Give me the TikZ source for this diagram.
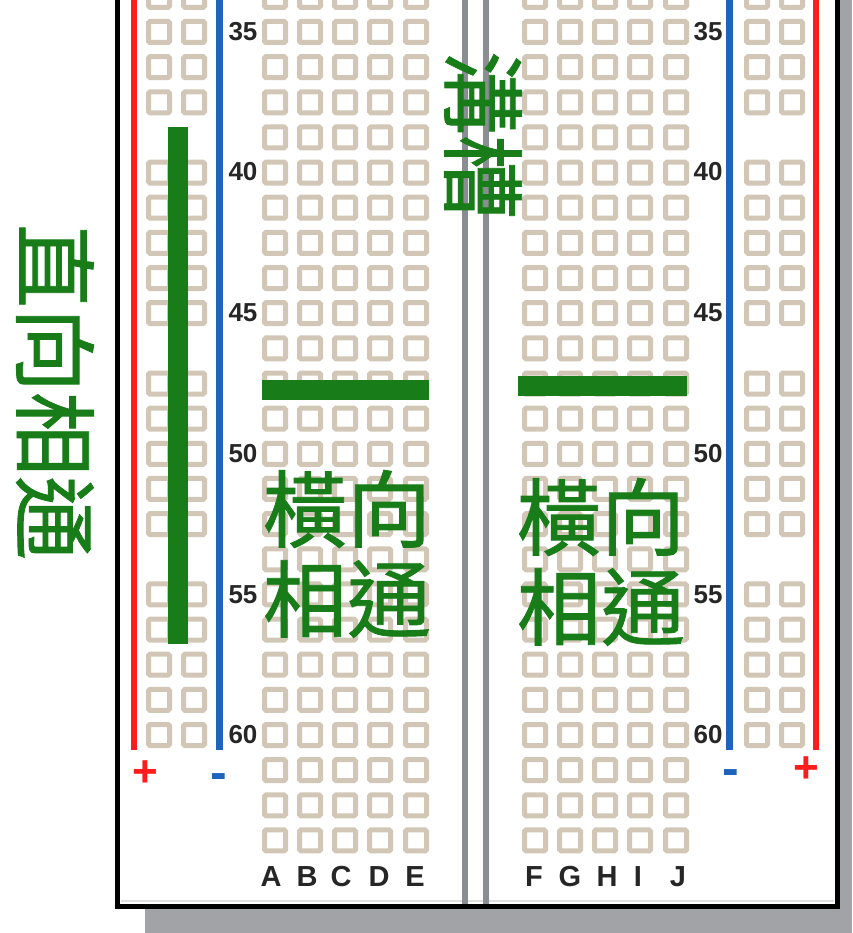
\documentclass[tikz,border=0pt]{standalone}
\usepackage{xcolor}
\usepackage{fontspec}
\setmainfont{Liberation Sans}
\newfontfamily\cjkfont[FakeBold=1]{Noto Sans CJK TC}
\usepackage{tikz}
\usetikzlibrary{calc}
\definecolor{holetan}{HTML}{D2C7B6}
\definecolor{railred}{HTML}{FF1C1C}
\definecolor{railblue}{HTML}{1F64BC}
\definecolor{bargreen}{HTML}{187D18}
\definecolor{shadowgray}{HTML}{A2A3A7}
\definecolor{slotgray}{HTML}{8A8E93}
\tikzset{
  hole/.style={draw=holetan, line width=5pt, rounded corners=1.5pt},
  rownum/.style={text=black!85, inner sep=0pt, font=\bfseries\fontsize{26}{26}\selectfont},
  collabel/.style={text=black!85, inner sep=0pt, font=\bfseries\fontsize{29}{29}\selectfont},
  cjklabel/.style={text=bargreen, inner sep=0pt, font=\cjkfont\fontsize{84}{84}\selectfont},
  plussign/.style={text=railred, inner sep=0pt, font=\bfseries\fontsize{44}{44}\selectfont},
  minussign/.style={text=railblue, inner sep=0pt, font=\bfseries\fontsize{50}{50}\selectfont}
}
\begin{document}
\begin{tikzpicture}[x=1pt, y=-1pt]
\useasboundingbox (0, 0) rectangle (852, 933);
\clip (0, 0) rectangle (852, 933);
% shadow and board
\fill [shadowgray] (145, 905) rectangle (852, 933);
\fill [shadowgray] (838, 0) rectangle (852, 933);
\fill [white] (117, -5) rectangle (838, 906);
\draw [black!12, line width=1.5pt] (121, 901) -- (834, 901);
\draw [slotgray, line width=6.5pt] (465, -5) -- (465, 904);
\draw [slotgray, line width=6.5pt] (486, -5) -- (486, 904);
\draw [black, line width=5pt] (117.5, -5) -- (117.5, 906) -- (837.5, 906) -- (837.5, -5);
% holes in the two terminal strips
\foreach \k in {-1,...,23} {
  \foreach \cx in {275,310,345,380,416,535,570,605,640,676} {
    \draw [hole] ({\cx-10.5}, {32+35.15*\k-10.5}) rectangle ({\cx+10.5}, {32+35.15*\k+10.5});
  }
}
% holes in the power rails, every sixth row is left out
\foreach \k in {-1,0,1,2,4,5,6,7,8,10,11,12,13,14,16,17,18,19,20} {
  \foreach \cx in {159,194,757,792} {
    \draw [hole] ({\cx-10.5}, {32+35.15*\k-10.5}) rectangle ({\cx+10.5}, {32+35.15*\k+10.5});
  }
}
% rails
\draw [railred, line width=6pt] (133.5, -5) -- (133.5, 750);
\draw [railblue, line width=7pt] (219, -5) -- (219, 750);
\draw [railblue, line width=7pt] (729, -5) -- (729, 750);
\draw [railred, line width=6pt] (815.5, -5) -- (815.5, 750);
\node [plussign] (plusL) at (145, 774) {+};
\node [minussign] (minusL) at (219, 782) {-};
\node [minussign] (minusR) at (731, 778) {-};
\node [plussign] (plusR) at (806, 770) {+};
% row numbers
\foreach \n/\ny in {35/32,40/172,45/313,50/454,55/595,60/735} {
  \node [rownum] (numL\n) at (243, \ny) {\n};
  \node [rownum] (numR\n) at (708, \ny) {\n};
}
% column letters
\foreach \c/\cx in {A/271,B/307,C/341,D/379,E/415,F/534,G/570,H/607,I/638,J/678} {
  \node [collabel] (col\c) at (\cx, 877) {\c};
}
% green bars
\fill [bargreen] (168, 127) rectangle (188, 644);
\fill [bargreen] (262, 380) rectangle (429, 400);
\fill [bargreen] (518, 376) rectangle (687, 396);
% green labels
\node [cjklabel, rotate=-90] (vert) at (55, 392) {直向相通};
\node [cjklabel, rotate=-90] (slot) at (483, 135) {溝槽};
\node [cjklabel] (horzL1) at (347, 509) {橫向};
\node [cjklabel] (horzL2) at (347, 599) {相通};
\node [cjklabel] (horzR1) at (601, 517) {橫向};
\node [cjklabel] (horzR2) at (601, 607) {相通};
\end{tikzpicture}
\end{document}
